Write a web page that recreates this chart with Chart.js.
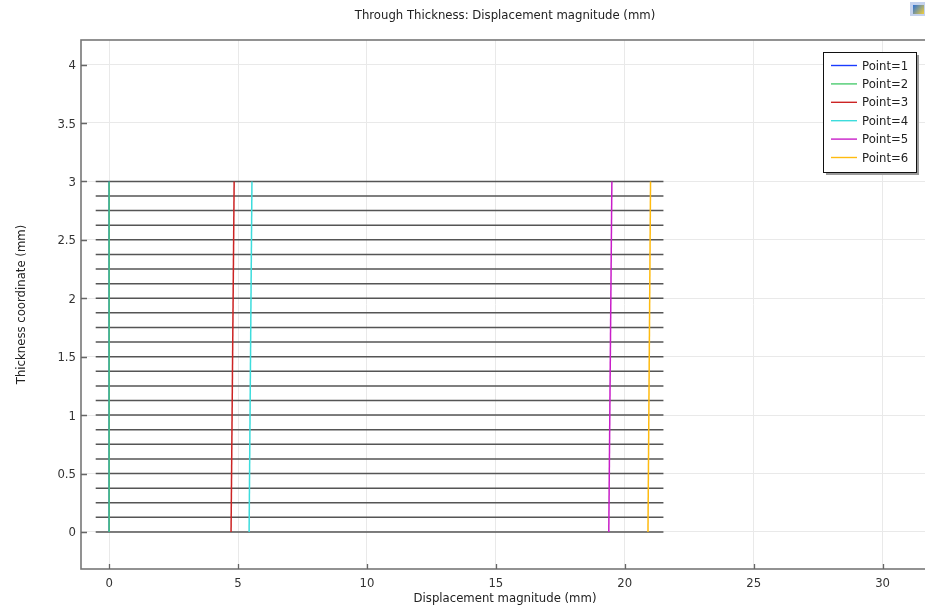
<!DOCTYPE html>
<html lang="en">
<head>
    <meta charset="UTF-8">
    <title>Through Thickness</title>
    <script src="https://cdn.jsdelivr.net/npm/chart.js"></script>
    <style>
        body {
            margin: 0;
            background: #ffffff;
            overflow: hidden;
        }
        canvas {
            display: block;
        }
    </style>
</head>
<body>
    <canvas id="thicknessChart" width="932" height="613"></canvas>

    <script>
        // values
        const pointLabels = ['Point=1', 'Point=2', 'Point=3', 'Point=4', 'Point=5', 'Point=6'];
        const pointThickness = [0, 3];
        const pointDisplacement = [
            [0, 0],
            [0, 0],
            [4.73, 4.85],
            [5.43, 5.54],
            [19.38, 19.5],
            [20.9, 21.0],
        ];
        const layerThickness = [0, 0.125, 0.25, 0.375, 0.5, 0.625, 0.75, 0.875, 1, 1.125, 1.25, 1.375,
            1.5, 1.625, 1.75, 1.875, 2, 2.125, 2.25, 2.375, 2.5, 2.625, 2.75, 2.875, 3];
        const layerDisplacement = [-0.52, 21.5];
        const xTickValues = [0, 5, 10, 15, 20, 25, 30];
        const yTickValues = [0, 0.5, 1, 1.5, 2, 2.5, 3, 3.5, 4];

        const pointColors = ['#1a3cff', '#4ccc70', '#cc2424', '#3ddcdc', '#c81ec8', '#ffbb10'];
        const fontSize = 11.7;
        const font = { family: 'DejaVu Sans', size: fontSize };
        const cssFont = fontSize + 'px "DejaVu Sans"';

        const datasets = [];
        pointLabels.forEach((label, i) => {
            datasets.push({
                label: label,
                data: pointThickness.map((t, k) => ({ x: pointDisplacement[i][k], y: t })),
                borderColor: pointColors[i],
                borderWidth: 1.5,
                pointRadius: 0,
                fill: false,
                order: 7 - i,
            });
        });
        layerThickness.forEach((t) => {
            datasets.push({
                label: '',
                data: layerDisplacement.map(x => ({ x: x, y: t })),
                borderColor: '#555555',
                borderWidth: 1.5,
                pointRadius: 0,
                fill: false,
                order: 10,
            });
        });

        // frame, inner tick marks, title, legend box, corner icon
        const decorations = {
            id: 'decorations',
            afterDraw(chart) {
                const ctx = chart.ctx;
                const a = chart.chartArea;
                const xs = chart.scales.x, ys = chart.scales.y;
                ctx.save();

                ctx.strokeStyle = '#777777';
                ctx.lineWidth = 1.6;
                ctx.strokeRect(a.left, a.top, a.right - a.left, a.bottom - a.top);

                ctx.strokeStyle = '#666';
                ctx.lineWidth = 1.3;
                ctx.beginPath();
                xs.ticks.forEach(t => {
                    const px = Math.round(xs.getPixelForValue(t.value)) + 0.5;
                    ctx.moveTo(px, a.bottom);
                    ctx.lineTo(px, a.bottom - 5);
                });
                ys.ticks.forEach(t => {
                    const py = Math.round(ys.getPixelForValue(t.value)) + 0.5;
                    ctx.moveTo(a.left, py);
                    ctx.lineTo(a.left + 6, py);
                });
                ctx.stroke();

                ctx.fillStyle = '#222';
                ctx.font = cssFont;
                ctx.textAlign = 'center';
                ctx.textBaseline = 'middle';
                ctx.fillText('Through Thickness: Displacement magnitude (mm)', (a.left + a.right) / 2, 16);

                // legend
                const bx = 823, by = 52, bw = 93, bh = 120;
                ctx.fillStyle = '#9a9a9a';
                ctx.fillRect(bx + 3, by + 3, bw, bh);
                ctx.fillStyle = '#ffffff';
                ctx.fillRect(bx, by, bw, bh);
                ctx.strokeStyle = '#111';
                ctx.lineWidth = 1;
                ctx.strokeRect(bx + 0.5, by + 0.5, bw, bh);
                ctx.textAlign = 'left';
                ctx.font = cssFont;
                pointLabels.forEach((label, i) => {
                    const ly = by + 13.5 + i * 18.4;
                    ctx.strokeStyle = pointColors[i];
                    ctx.lineWidth = 1.4;
                    ctx.beginPath();
                    ctx.moveTo(bx + 8, ly);
                    ctx.lineTo(bx + 34, ly);
                    ctx.stroke();
                    ctx.fillStyle = '#222';
                    ctx.fillText(label, bx + 39, ly + 1);
                });

                // small window icon at the top right corner
                const g = ctx.createLinearGradient(913, 5, 924, 14);
                g.addColorStop(0, '#2a70d8');
                g.addColorStop(1, '#f2cf3a');
                ctx.fillStyle = '#c4d2ee';
                ctx.fillRect(910, 2, 15, 14);
                ctx.fillStyle = g;
                ctx.fillRect(913, 5, 11, 9);

                ctx.restore();
            }
        };

        const ctx = document.getElementById('thicknessChart').getContext('2d');
        const chart = new Chart(ctx, {
            type: 'line',
            data: { datasets: datasets },
            options: {
                responsive: false,
                animation: false,
                layout: { padding: { top: 40, right: 3, left: 0, bottom: 0 } },
                scales: {
                    x: {
                        type: 'linear',
                        min: -1.09,
                        max: 31.8,
                        afterBuildTicks: (scale) => {
                            scale.ticks = xTickValues.map(v => ({ value: v }));
                        },
                        afterFit: (scale) => { scale.height = 44; },
                        grid: { color: '#e9e9e9', drawTicks: false },
                        border: { display: false },
                        ticks: { font: font, color: '#333', padding: 8, maxRotation: 0, callback: v => String(v) },
                        title: {
                            display: true,
                            text: 'Displacement magnitude (mm)',
                            font: font,
                            color: '#222',
                            padding: { top: 0, bottom: 7 },
                        },
                    },
                    y: {
                        type: 'linear',
                        min: -0.317,
                        max: 4.21,
                        afterBuildTicks: (scale) => {
                            scale.ticks = yTickValues.map(v => ({ value: v }));
                        },
                        afterFit: (scale) => { scale.width = 81; },
                        grid: { color: '#e9e9e9', drawTicks: false },
                        border: { display: false },
                        ticks: { font: font, color: '#333', padding: 5, labelOffset: 1.5, callback: v => String(v) },
                        title: {
                            display: true,
                            text: 'Thickness coordinate (mm)',
                            font: font,
                            color: '#222',
                            padding: { top: 15, bottom: 0 },
                        },
                    },
                },
                plugins: {
                    legend: { display: false },
                    tooltip: { enabled: false },
                    title: { display: false },
                },
            },
            plugins: [decorations],
        });
    </script>
</body>
</html>
